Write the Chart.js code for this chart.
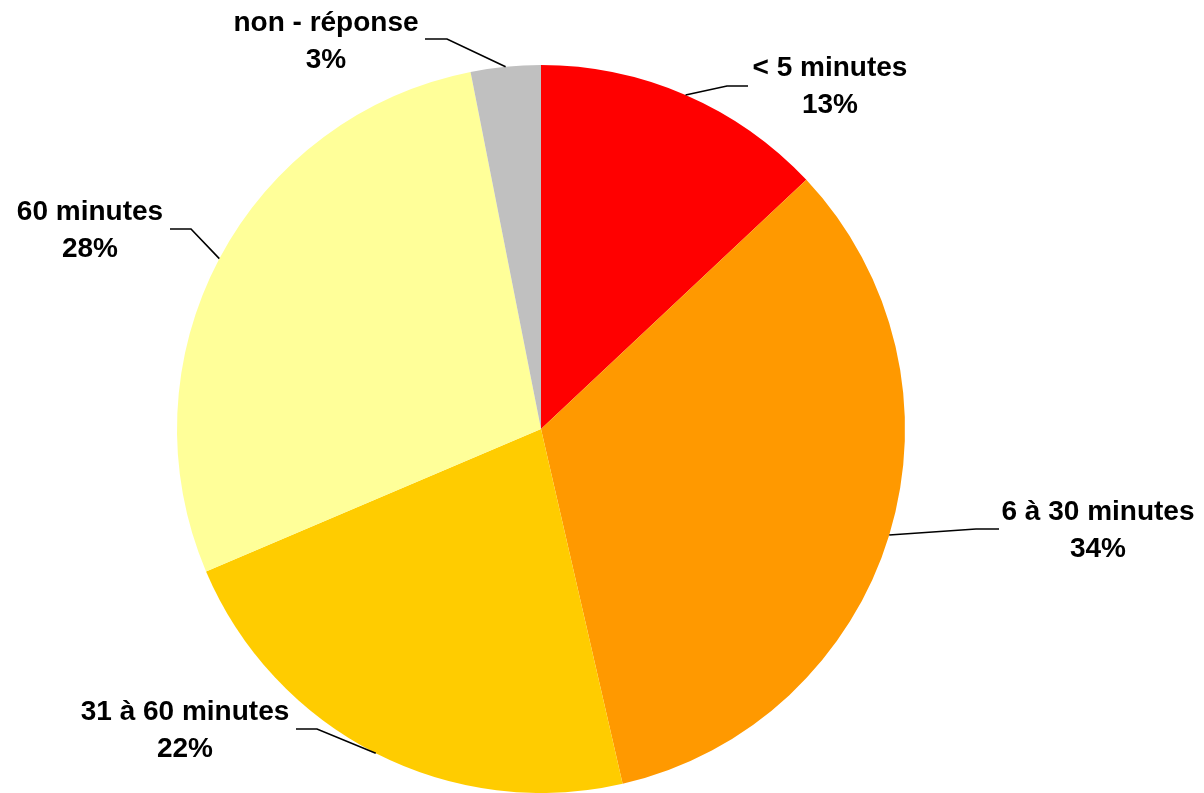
<!DOCTYPE html>
<html>
<head>
<meta charset="utf-8">
<script src="https://cdn.jsdelivr.net/npm/chart.js@4/dist/chart.umd.min.js"></script>
<style>
    html, body { margin: 0; padding: 0; background: #fff; }
    #wrap { width: 1204px; height: 793px; position: relative; }
</style>
</head>
<body>
<div id="wrap"><canvas id="pie"></canvas></div>
<script>
// Chart data
const categories = ['< 5 minutes', '6 à 30 minutes', '31 à 60 minutes', '60 minutes', 'non - réponse'];
const values = [13.0, 33.4, 22.2, 28.3, 3.1];
const percentLabels = ['13%', '34%', '22%', '28%', '3%'];
const sliceColors = ['#FF0000', '#FF9900', '#FFCC00', '#FFFF99', '#C0C0C0'];

// Label placement (text centre / first baseline, leader end and elbow)
const labelLayout = [
    { x: 830, y: 76, endX: 748, endY: 86, elbowX: 727 },
    { x: 1098, y: 520, endX: 999, endY: 529, elbowX: 976 },
    { x: 185, y: 720, endX: 296, endY: 729, elbowX: 317 },
    { x: 90, y: 220, endX: 170, endY: 229, elbowX: 191 },
    { x: 326, y: 31, endX: 425, endY: 39, elbowX: 447 }
];

// Draws the outside labels with their leader lines
const leaderLabels = {
    id: 'leaderLabels',
    afterDatasetsDraw(chart) {
        const ctx = chart.ctx;
        const arcs = chart.getDatasetMeta(0).data;
        ctx.save();
        arcs.forEach((arc, i) => {
            const pos = labelLayout[i];
            const mid = (arc.startAngle + arc.endAngle) / 2;
            const sx = arc.x + Math.cos(mid) * arc.outerRadius;
            const sy = arc.y + Math.sin(mid) * arc.outerRadius;

            ctx.strokeStyle = '#000';
            ctx.lineWidth = 1.6;
            ctx.beginPath();
            ctx.moveTo(sx, sy);
            ctx.lineTo(pos.elbowX, pos.endY);
            ctx.lineTo(pos.endX, pos.endY);
            ctx.stroke();

            ctx.fillStyle = '#000';
            ctx.font = 'bold 28px "Liberation Sans", Arial, sans-serif';
            ctx.textAlign = 'center';
            ctx.textBaseline = 'alphabetic';
            ctx.fillText(categories[i], pos.x, pos.y);
            ctx.fillText(percentLabels[i], pos.x, pos.y + 37);
        });
        ctx.restore();
    }
};

new Chart(document.getElementById('pie'), {
    type: 'pie',
    data: {
        labels: categories,
        datasets: [{
            data: values,
            backgroundColor: sliceColors,
            borderWidth: 0
        }]
    },
    options: {
        responsive: true,
        maintainAspectRatio: false,
        animation: false,
        layout: {
            padding: { left: 177, right: 299, top: 65, bottom: 0 }
        },
        plugins: {
            legend: { display: false },
            tooltip: { enabled: false }
        }
    },
    plugins: [leaderLabels]
});
</script>
</body>
</html>
